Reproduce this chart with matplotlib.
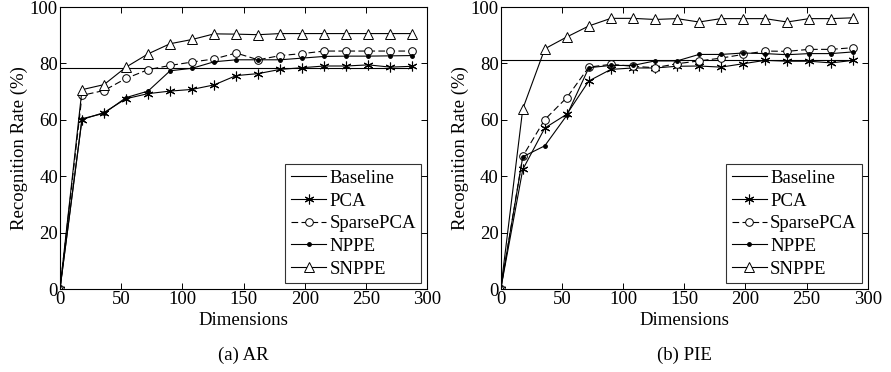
import numpy as np
import matplotlib
matplotlib.use("Agg")
import matplotlib.pyplot as plt

plt.rcParams['font.family'] = ['Liberation Serif', 'DejaVu Serif']
plt.rcParams['mathtext.fontset'] = 'stix'

dims = [0, 18, 36, 54, 72, 90, 108, 126, 144, 162, 180, 198, 216, 234, 252, 270, 288]

# ---- AR ----
ar_baseline = 78.4
ar_pca = [0, 60.1, 62.6, 67.5, 69.3, 70.2, 70.8, 72.4, 75.7, 76.4, 77.9, 78.5, 79.1, 79.1, 79.5, 78.7, 79.0]
ar_spca = [0, 68.7, 70.4, 74.7, 77.8, 79.3, 80.5, 81.6, 83.7, 81.3, 82.8, 83.5, 84.4, 84.4, 84.4, 84.4, 84.4]
ar_nppe = [0, 60.4, 62.3, 67.9, 70.2, 77.4, 78.3, 80.6, 81.3, 81.3, 81.3, 81.9, 82.5, 82.6, 82.6, 82.7, 82.8]
ar_snppe = [0, 70.7, 72.5, 78.7, 83.4, 87.0, 88.5, 90.5, 90.4, 90.2, 90.6, 90.6, 90.6, 90.6, 90.6, 90.6, 90.6]

# ---- PIE ----
pie_baseline = 81.1
pie_pca = [0, 42.4, 57.1, 62.0, 73.8, 77.9, 78.4, 78.4, 79.0, 79.1, 78.7, 79.9, 81.1, 80.8, 80.8, 80.2, 81.1]
pie_spca = [0, 47.1, 60.1, 67.9, 78.7, 79.7, 79.0, 78.5, 79.9, 80.9, 81.9, 83.2, 84.4, 84.3, 85.0, 85.0, 85.6]
pie_nppe = [0, 46.9, 50.8, 61.6, 78.5, 79.3, 79.3, 80.9, 80.9, 83.2, 83.2, 83.7, 83.5, 83.1, 83.5, 83.5, 84.1]
pie_snppe = [0, 63.9, 85.2, 89.4, 93.3, 96.0, 96.0, 95.6, 95.9, 94.7, 95.9, 95.9, 95.9, 94.7, 95.9, 95.9, 96.2]

fig = plt.figure(figsize=(8.91, 3.72), dpi=100)
ax1 = fig.add_axes([0.0673, 0.223, 0.412, 0.758])
ax2 = fig.add_axes([0.562, 0.223, 0.412, 0.758])

FS = 13.5


def draw(ax, base, pca, spca, nppe, snppe, caption):
    lw = 0.8
    ax.plot([dims[0], dims[-1]], [base, base], '-', color='k', lw=lw, label='Baseline')
    ax.plot(dims, pca, '-', color='k', lw=lw, marker=(6, 2, 0), ms=7, mew=0.8, label='PCA')
    ax.plot(dims, spca, '--', color='k', lw=lw, marker='o', ms=5.5, mfc='white', mew=0.7,
            dashes=(6, 3), label='SparsePCA')
    ax.plot(dims, nppe, '-', color='k', lw=lw, marker='.', ms=5, label='NPPE')
    ax.plot(dims, snppe, '-', color='k', lw=lw, marker='^', ms=6.5, mfc='white', mew=0.7, label='SNPPE')
    ax.set_xlim(0, 300)
    ax.set_ylim(0, 100)
    ax.set_xticks([0, 50, 100, 150, 200, 250, 300])
    ax.set_yticks([0, 20, 40, 60, 80, 100])
    ax.tick_params(direction='in', top=True, right=True, labelsize=FS, length=4, pad=1.5, width=0.7)
    for s in ax.spines.values():
        s.set_linewidth(0.8)
    ax.set_xlabel('Dimensions', fontsize=FS, labelpad=3)
    ax.set_ylabel('Recognition Rate (%)', fontsize=FS, labelpad=1)
    leg = ax.legend(loc='lower right', fontsize=FS, frameon=True, fancybox=False,
                    edgecolor='k', handlelength=1.9, borderaxespad=0.3,
                    labelspacing=0.3, handletextpad=0.15, borderpad=0.3)
    leg.get_frame().set_linewidth(0.8)
    ax.text(0.5, -0.205, caption, transform=ax.transAxes, ha='center', va='top', fontsize=FS)


draw(ax1, ar_baseline, ar_pca, ar_spca, ar_nppe, ar_snppe, '(a) AR')
draw(ax2, pie_baseline, pie_pca, pie_spca, pie_nppe, pie_snppe, '(b) PIE')

fig.savefig('out.png', dpi=100)
